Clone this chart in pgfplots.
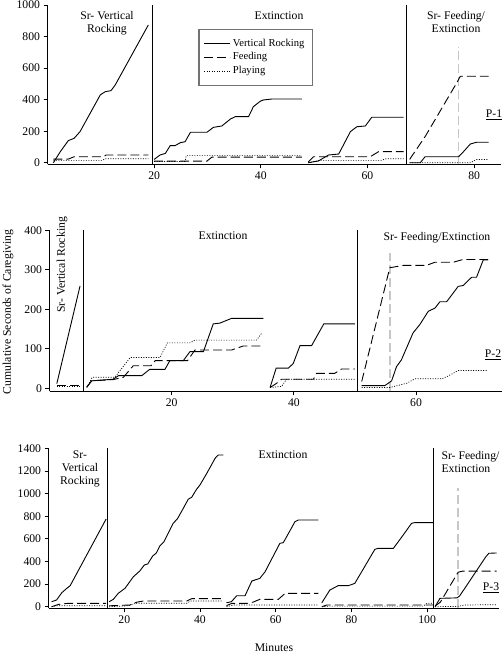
\documentclass[border=0pt]{standalone}
\usepackage{fontspec}
\setmainfont{Liberation Serif}
\usepackage{pgfplots}
\pgfplotsset{compat=1.18}
\newcommand{\lgf}{\fontsize{10.6bp}{12bp}\selectfont}
\begin{document}
\begin{tikzpicture}[font=\fontsize{11.7bp}{13bp}\selectfont]
\useasboundingbox (0bp,0bp) rectangle (503bp,653bp);
\pgfplotsset{
  panel/.style={
    scale only axis,
    anchor=south west,
    axis lines=left,
    axis line style={-, line width=0.8bp},
    tick align=outside,
    major tick length=4bp,
    tick style={line width=0.8bp, black},
    tick label style={font=\fontsize{11.7bp}{13bp}\selectfont},
    /pgf/number format/assume math mode=true,
    /pgf/number format/set thousands separator={},
    clip=false,
  },
  vr/.style={black, line width=0.9bp, forget plot},
  fd/.style={black, line width=0.9bp, dash pattern=on 9bp off 4bp, forget plot},
  pl/.style={black, line width=0.7bp, dash pattern=on 1bp off 1.5bp, forget plot},
  phase/.style={black, line width=0.9bp, forget plot},
  gdash/.style={black!22, line width=1.4bp, dash pattern=on 9bp off 4bp, forget plot},
}
% ---------------- Panel 1 ----------------
\begin{axis}[panel, at={(47.5bp,488.7bp)}, width=453.3bp, height=159.3bp,
  xmin=0, xmax=85, ymin=-10, ymax=1000,
  xtick={20,40,60,80}, ytick={0,200,...,1000},
  legend cell align=left,
  legend style={at={(0.333,0.85)}, anchor=north west, draw=black!55, line width=1.2bp,
    inner xsep=5bp, inner ysep=7bp, row sep=0bp,
    nodes={inner sep=2bp, text height=7.6bp, text depth=2.3bp}},
  legend image code/.code={\draw[#1] (0bp,0bp) -- (26bp,0bp);}]
\addlegendimage{black, line width=0.9bp}
\addlegendentry{\lgf Vertical Rocking\hspace*{1bp}}
\addlegendimage{black, line width=0.9bp, dash pattern=on 9bp off 4bp}
\addlegendentry{\lgf Feeding}
\addlegendimage{black, line width=0.7bp, dash pattern=on 1bp off 1.5bp}
\addlegendentry{\lgf Playing}
% phase lines
\addplot[phase] coordinates {(19.7,-10) (19.7,1000)};
\addplot[phase] coordinates {(67.3,-10) (67.3,1000)};
\addplot[gdash] coordinates {(77.1,-10) (77.1,735)};
% Sr vertical rocking
\addplot[vr] coordinates {(1.1,0) (2.4,70) (3.9,140) (5.0,155) (6.1,197) (9.9,430) (10.8,450) (11.9,457) (12.7,493) (18.9,873)};
\addplot[fd] coordinates {(1.1,23) (3.9,23) (5.0,38) (10.5,38) (11.0,49) (18.9,49)};
\addplot[pl] coordinates {(1.1,15) (10.3,15) (10.8,25) (18.9,25)};
% extinction 1
\addplot[vr] coordinates {(20.0,21) (21.1,49) (22.1,59) (23.0,108) (23.9,108) (24.9,127) (25.8,133) (26.8,193) (29.9,193) (31.1,224) (32.7,233) (34.3,277) (35.2,292) (37.7,292) (38.6,355) (39.9,390) (40.5,398) (42.1,404) (47.7,404)};
\addplot[fd] coordinates {(20.0,10) (29.9,10) (30.8,35) (47.7,35)};
\addplot[pl] coordinates {(20.0,8) (25.8,8) (26.0,45) (47.7,45)};
% extinction 2
\addplot[vr] coordinates {(48.9,0) (50.8,11) (52.7,49) (54.6,55) (56.8,197) (58.0,228) (59.6,233) (60.8,288) (66.8,288)};
\addplot[fd] coordinates {(48.9,5) (49.9,38) (60.5,38) (62.1,70) (66.8,70)};
\addplot[pl] coordinates {(48.9,0) (51.0,15) (62.5,15) (63.5,25) (66.8,25)};
% Sr feeding / extinction
\addplot[vr] coordinates {(67.9,0) (69.9,0) (70.8,38) (77.1,38) (78.0,70) (79.3,119) (80.5,130) (82.7,130)};
\addplot[fd] coordinates {(67.9,21) (70.8,165) (76.8,510) (77.4,548) (82.7,548)};
\addplot[pl] coordinates {(67.9,0) (79.3,0) (80.5,21) (82.7,21)};
\end{axis}
% ---------------- Panel 2 ----------------
\begin{axis}[panel, at={(49.5bp,261.5bp)}, width=452.1bp, height=161.3bp,
  xmin=0, xmax=74, ymin=-8, ymax=400,
  xtick={20,40,60}, ytick={0,100,...,400}]
\addplot[phase] coordinates {(5.5,-8) (5.5,400)};
\addplot[phase] coordinates {(50.4,-8) (50.4,400)};
\addplot[gdash] coordinates {(55.7,-8) (55.7,342)};
% Sr vertical rocking
\addplot[vr] coordinates {(1.2,12) (5.0,259)};
\addplot[fd] coordinates {(1.2,8) (5.0,8)};
\addplot[pl] coordinates {(1.2,6) (5.0,6)};
% extinction 1
\addplot[vr] coordinates {(6.1,3) (6.9,19) (10.4,23) (11.3,32) (15.1,32) (16.4,48) (18.9,48) (19.7,70) (21.9,70) (23.0,93) (25.2,93) (26.8,163) (27.9,165) (29.8,177) (35.0,177)};
\addplot[fd] coordinates {(6.1,3) (6.9,19) (10.4,22) (12.1,28) (13.7,57) (16.6,57) (17.3,70) (22.6,70) (23.8,97) (29.8,97) (31.7,107) (35.0,107)};
\addplot[pl] coordinates {(6.1,2) (7.0,28) (10.7,28) (13.2,78) (18.1,78) (19.3,115) (23.0,115) (23.8,122) (33.9,122) (34.7,139)};
% extinction 2
\addplot[vr] coordinates {(36.1,2) (37.1,51) (39.1,51) (39.9,63) (41.0,108) (42.9,108) (44.9,163) (50.0,163)};
\addplot[fd] coordinates {(36.1,2) (37.2,13) (38.0,23) (43.2,23) (43.7,38) (46.7,38) (47.8,49) (50.0,49)};
\addplot[pl] coordinates {(36.1,2) (38.0,5) (38.8,23) (50.0,23)};
% Sr feeding / extinction
\addplot[vr] coordinates {(51.1,7) (54.9,7) (56.0,19) (56.8,55) (57.6,72) (59.5,140) (60.6,161) (62.0,195) (63.1,203) (63.9,219) (65.0,219) (66.9,258) (67.7,260) (69.1,281) (69.9,281) (71.0,325) (71.8,325)};
\addplot[fd] coordinates {(51.1,17) (55.7,305) (57.9,311) (61.7,311) (63.1,319) (66.1,319) (67.7,326) (71.8,326)};
\addplot[pl] coordinates {(51.1,2) (55.7,2) (58.5,13) (59.8,24) (64.2,24) (65.1,30) (66.9,45) (71.6,45)};
\end{axis}
% ---------------- Panel 3 ----------------
\begin{axis}[panel, at={(48.6bp,44.6bp)}, width=450.4bp, height=160.1bp,
  xmin=0, xmax=119, ymin=-15, ymax=1400,
  xtick={20,40,60,80,100}, ytick={0,200,...,1400}]
\addplot[phase] coordinates {(15.5,-15) (15.5,1400)};
\addplot[phase] coordinates {(101.8,-15) (101.8,1400)};
\addplot[gdash] coordinates {(108.2,-15) (108.2,1047)};
% Sr vertical rocking
\addplot[vr] coordinates {(0.8,44) (2.1,59) (3.5,124) (4.8,162) (5.7,186) (15.2,775)};
\addplot[fd] coordinates {(0.8,0) (2.6,20) (5.2,30) (15.2,30)};
\addplot[pl] coordinates {(0.8,0) (2.0,8) (15.2,8)};
% extinction 1
\addplot[vr] coordinates {(16.0,44) (17.1,65) (18.4,118) (20.2,163) (22.4,265) (24.1,316) (25.3,369) (26.2,378) (27.5,448) (28.4,472) (29.4,537) (30.5,575) (31.6,649) (32.9,737) (34.0,775) (35.6,870) (36.9,950) (37.8,967) (39.1,1038) (40.0,1076) (41.8,1179) (44.0,1312) (44.8,1341) (46.2,1341)};
\addplot[fd] coordinates {(16.0,8) (21.5,15) (23.3,40) (25.0,50) (36.5,50) (37.8,71) (46.0,71)};
\addplot[pl] coordinates {(16.0,0) (21.0,8) (23.0,30) (36.5,30) (37.5,50) (46.0,50)};
% extinction 2
\addplot[vr] coordinates {(47.0,35) (48.3,44) (49.7,97) (51.9,97) (53.7,227) (54.5,236) (55.8,250) (57.2,309) (61.1,560) (62.0,566) (62.9,619) (65.1,752) (66.0,766) (71.3,766)};
\addplot[fd] coordinates {(47.0,10) (48.5,30) (52.5,30) (54.0,40) (55.8,65) (60.7,65) (62.5,118) (71.3,118)};
\addplot[pl] coordinates {(47.0,0) (49.0,15) (71.3,15)};
% extinction 3
\addplot[vr] coordinates {(72.2,35) (74.3,147) (76.5,186) (79.2,186) (80.9,206) (86.2,507) (87.1,516) (91.1,516) (93.7,634) (95.9,737) (96.7,743) (101.5,743)};
\addplot[fd] coordinates {(72.2,0) (73.5,15) (101.5,15)};
\addplot[pl] coordinates {(72.2,0) (74.0,5) (99.0,5) (100.0,30) (101.5,30)};
% Sr feeding / extinction
\addplot[vr] coordinates {(102.1,0) (103.4,74) (107.9,78) (108.6,95) (115.5,440) (116.3,472) (118.4,475)};
\addplot[fd] coordinates {(102.1,5) (103.5,40) (108.2,305) (109.5,315) (118.4,315)};
\addplot[pl] coordinates {(102.1,0) (108.2,3) (110.0,15) (118.4,18)};
\end{axis}
% ---------------- Annotations ----------------
\node[align=center] at (107bp,629.5bp) {Sr- Vertical\\Rocking};
\node at (279bp,637bp) {Extinction};
\node[align=center] at (456bp,630.5bp) {Sr- Feeding/\\Extinction};
\node at (494bp,538bp) {\underline{P-1}};
\node[rotate=90] at (62bp,388bp) {Sr- Vertical Rocking};
\node at (223bp,417bp) {Extinction};
\node at (437bp,415bp) {Sr- Feeding/Extinction};
\node at (493bp,298bp) {\underline{P-2}};
\node[rotate=90] at (8bp,341bp) {Cumulative Seconds of Caregiving};
\node[align=center] at (80bp,184.5bp) {Sr-\\Vertical\\Rocking};
\node at (283bp,198bp) {Extinction};
\node[align=left, anchor=west] at (438bp,191bp) {Sr- Feeding/\\Extinction};
\node at (491bp,65bp) {\underline{P-3}};
\node at (274bp,5.5bp) {Minutes};
\end{tikzpicture}
\end{document}
